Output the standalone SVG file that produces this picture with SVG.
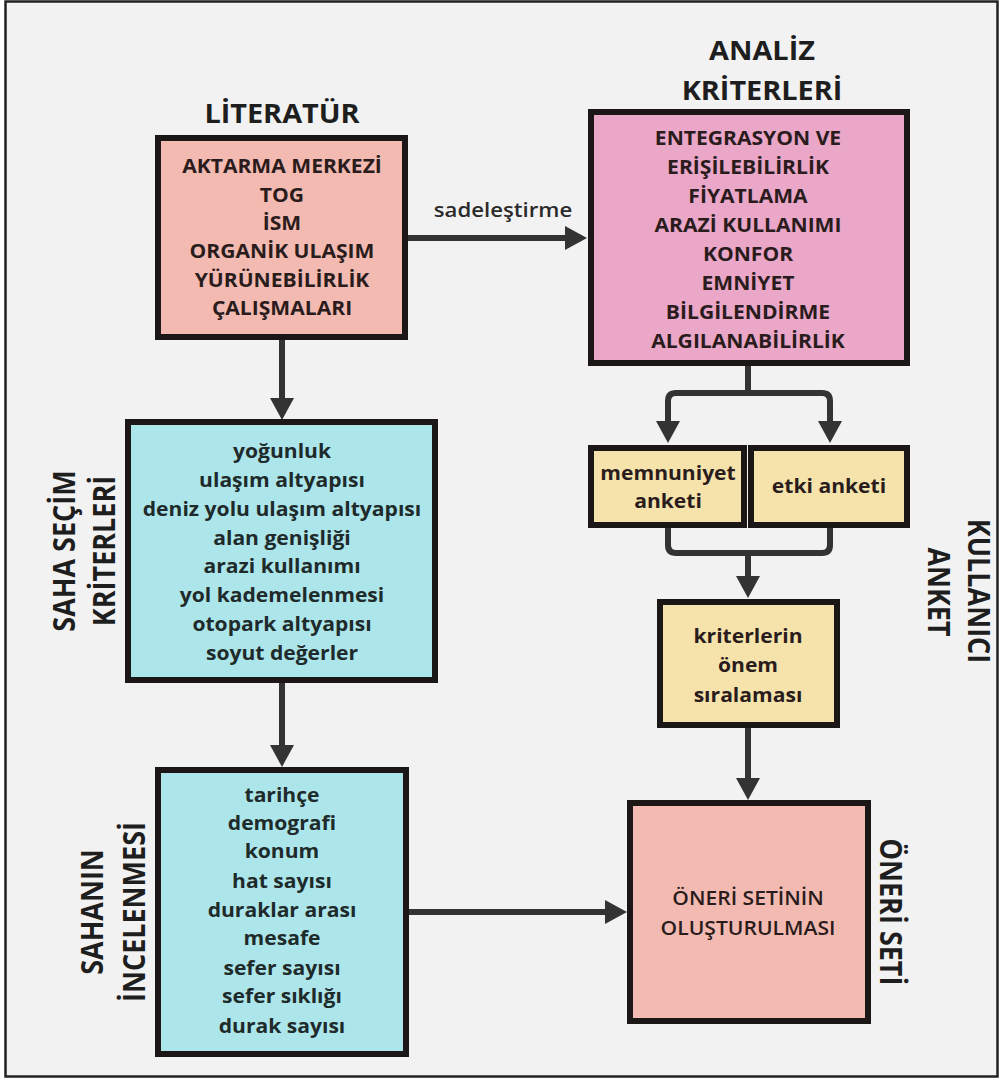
<svg xmlns="http://www.w3.org/2000/svg" width="1003" height="1081" viewBox="0 0 1003 1081">
<defs>
<style>
text{font-family:"Open Sans","Noto Sans","Liberation Sans",sans-serif;font-weight:700;text-anchor:middle}
.box{stroke:#1b1717;stroke-width:6}
.lit{fill:#f3bab1}
.ana{fill:#eaa7c8}
.cyan{fill:#ace6ea}
.yel{fill:#f5e3ab}
.body{font-size:19px;fill:#2a1c1c}
.cb{font-size:19px;fill:#1f2a2b}
.title{font-size:26px;fill:#1e1e1e}
.rot{font-size:27px;fill:#1e1e1e}
.lbl{font-size:20px;font-weight:600;fill:#2b2b2b}
.con{fill:none;stroke:#333;stroke-width:6;stroke-linejoin:round}
</style>
<marker id="ah" viewBox="0 0 22 24" refX="4" refY="12" markerWidth="22" markerHeight="24" markerUnits="userSpaceOnUse" orient="auto">
<path d="M0,0 L22,12 L0,24 Z" fill="#333"/>
</marker>
</defs>
<rect x="0" y="0" width="1003" height="1081" fill="#ffffff"/>
<rect x="5.5" y="1.5" width="992" height="1075" fill="#f2f2f2" stroke="#222" stroke-width="2.5"/>

<g id="connectors">
<path class="con" d="M408,238 H569" marker-end="url(#ah)"/>
<path class="con" d="M282,340 V402" marker-end="url(#ah)"/>
<path class="con" d="M282,683 V749" marker-end="url(#ah)"/>
<path class="con" d="M409,912 H609" marker-end="url(#ah)"/>
<path class="con" d="M748,366 V396"/>
<path class="con" d="M748,393 H676 Q668,393 668,401 V425" marker-end="url(#ah)"/>
<path class="con" d="M748,393 H822 Q830,393 830,401 V425" marker-end="url(#ah)"/>
<path class="con" d="M668,528 V545 Q668,553 676,553 H822 Q830,553 830,545 V528"/>
<path class="con" d="M748,553 V580" marker-end="url(#ah)"/>
<path class="con" d="M748,728 V782" marker-end="url(#ah)"/>
<g transform="translate(503,0) scale(1.11,1)"><text class="lbl" x="0" y="217">sadeleştirme</text></g>
</g>

<g id="literatur">
<rect class="box lit" x="158" y="138" width="247" height="199"/>
<g transform="translate(282,0) scale(1.11,1)">
<text class="title" x="0" y="123">LİTERATÜR</text>
<text class="body" x="0" y="173">AKTARMA MERKEZİ</text>
<text class="body" x="0" y="202">TOG</text>
<text class="body" x="0" y="230">İSM</text>
<text class="body" x="0" y="258">ORGANİK ULAŞIM</text>
<text class="body" x="0" y="287">YÜRÜNEBİLİRLİK</text>
<text class="body" x="0" y="315">ÇALIŞMALARI</text>
</g>
</g>

<g id="analiz">
<rect class="box ana" x="591" y="112" width="316" height="251"/>
<g transform="translate(762,0) scale(1.11,1)">
<text class="title" x="0" y="60">ANALİZ</text>
<text class="title" x="0" y="100">KRİTERLERİ</text>
</g>
<g transform="translate(748,0) scale(1.11,1)">
<text class="body" x="0" y="145">ENTEGRASYON VE</text>
<text class="body" x="0" y="174">ERİŞİLEBİLİRLİK</text>
<text class="body" x="0" y="203">FİYATLAMA</text>
<text class="body" x="0" y="232">ARAZİ KULLANIMI</text>
<text class="body" x="0" y="261">KONFOR</text>
<text class="body" x="0" y="290">EMNİYET</text>
<text class="body" x="0" y="319">BİLGİLENDİRME</text>
<text class="body" x="0" y="348">ALGILANABİLİRLİK</text>
</g>
</g>

<g id="saha-secim">
<text class="rot" transform="translate(75,551) scale(1.11,1) rotate(-90)">SAHA SEÇİM</text>
<text class="rot" transform="translate(115,551) scale(1.11,1) rotate(-90)">KRİTERLERİ</text>
<rect class="box cyan" x="128" y="422" width="307" height="258"/>
<g transform="translate(282,0) scale(1.11,1)">
<text class="cb" x="0" y="458">yoğunluk</text>
<text class="cb" x="0" y="487">ulaşım altyapısı</text>
<text class="cb" x="0" y="516">deniz yolu ulaşım altyapısı</text>
<text class="cb" x="0" y="545">alan genişliği</text>
<text class="cb" x="0" y="573">arazi kullanımı</text>
<text class="cb" x="0" y="602">yol kademelenmesi</text>
<text class="cb" x="0" y="631">otopark altyapısı</text>
<text class="cb" x="0" y="660">soyut değerler</text>
</g>
</g>

<g id="sahanin">
<text class="rot" transform="translate(103,912) scale(1.11,1) rotate(-90)">SAHANIN</text>
<text class="rot" transform="translate(145,912) scale(1.11,1) rotate(-90)">İNCELENMESİ</text>
<rect class="box cyan" x="158" y="770" width="248" height="284"/>
<g transform="translate(282,0) scale(1.11,1)">
<text class="cb" x="0" y="802">tarihçe</text>
<text class="cb" x="0" y="830">demografi</text>
<text class="cb" x="0" y="858">konum</text>
<text class="cb" x="0" y="888">hat sayısı</text>
<text class="cb" x="0" y="917">duraklar arası</text>
<text class="cb" x="0" y="945">mesafe</text>
<text class="cb" x="0" y="975">sefer sayısı</text>
<text class="cb" x="0" y="1003">sefer sıklığı</text>
<text class="cb" x="0" y="1033">durak sayısı</text>
</g>
</g>

<g id="memnuniyet">
<rect class="box yel" x="591" y="448" width="153" height="77"/>
<g transform="translate(668,0) scale(1.11,1)">
<text class="body" x="0" y="480">memnuniyet</text>
<text class="body" x="0" y="508">anketi</text>
</g>
</g>

<g id="etki">
<rect class="box yel" x="751" y="448" width="156" height="77"/>
<g transform="translate(829,0) scale(1.11,1)">
<text class="body" x="0" y="493">etki anketi</text>
</g>
</g>

<g id="kullanici-anket">
<text class="rot" transform="translate(968,591) scale(1.11,1) rotate(90)">KULLANICI</text>
<text class="rot" transform="translate(928,592) scale(1.11,1) rotate(90)">ANKET</text>
</g>

<g id="kriterlerin">
<rect class="box yel" x="660" y="602" width="177" height="123"/>
<g transform="translate(748,0) scale(1.11,1)">
<text class="body" x="0" y="643">kriterlerin</text>
<text class="body" x="0" y="672">önem</text>
<text class="body" x="0" y="702">sıralaması</text>
</g>
</g>

<g id="oneri">
<rect class="box lit" x="630" y="803" width="238" height="218"/>
<g transform="translate(748,0) scale(1.11,1)">
<text class="body" x="0" y="905" style="font-weight:600">ÖNERİ SETİNİN</text>
<text class="body" x="0" y="935" style="font-weight:600">OLUŞTURULMASI</text>
</g>
<text class="rot" transform="translate(880,912) scale(1.11,1) rotate(90)">ÖNERİ SETİ</text>
</g>
</svg>
